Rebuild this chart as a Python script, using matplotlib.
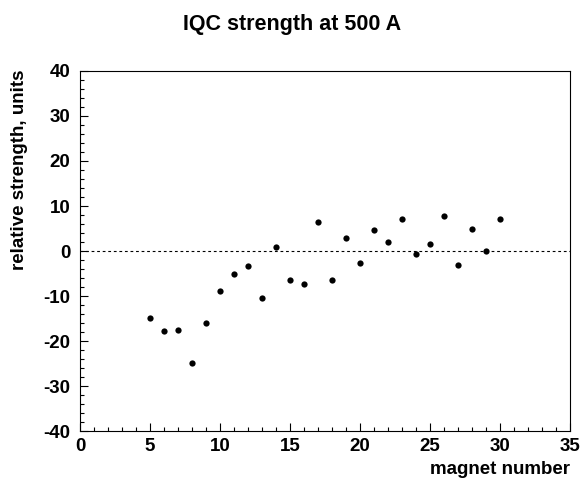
import numpy as np
import matplotlib.pyplot as plt
from matplotlib.ticker import MultipleLocator

plt.rcParams['font.family'] = ['Liberation Sans', 'DejaVu Sans']
plt.rcParams['font.weight'] = 'bold'
plt.rcParams['axes.unicode_minus'] = False

# magnet number vs. relative strength
magnet = [5, 6, 7, 8, 9, 10, 11, 12, 13, 14, 15, 16, 17, 18, 19, 20, 21, 22,
          23, 24, 25, 26, 27, 28, 29, 30]
strength = [-14.8, -17.8, -17.5, -24.9, -16.1, -8.9, -5.2, -3.3, -10.4, 0.9,
            -6.5, -7.4, 6.5, -6.5, 3.0, -2.7, 4.7, 2.1, 7.1, -0.6,
            1.5, 7.7, -3.0, 4.9, 0.0, 7.1]

fig = plt.figure(figsize=(5.84, 4.86), dpi=100)
ax = fig.add_axes([0.137, 0.113, 0.839, 0.741])

ax.axhline(0, color='black', lw=0.8, ls=(0, (2.5, 2.5)))
ax.plot(magnet, strength, 'o', color='black', ms=4.5, mec='none')

ax.set_xlim(0, 35)
ax.set_ylim(-40, 40)
ax.xaxis.set_major_locator(MultipleLocator(5))
ax.xaxis.set_minor_locator(MultipleLocator(1))
ax.yaxis.set_major_locator(MultipleLocator(10))
ax.yaxis.set_minor_locator(MultipleLocator(2))
ax.tick_params(which='both', direction='in', top=False, right=False,
               labelsize=13.5, width=0.8)
ax.tick_params(which='major', length=6)
ax.tick_params(which='minor', length=3)
ax.tick_params(axis='x', which='major', pad=5)
ax.tick_params(axis='y', which='major', pad=7)
for lab in ax.get_xticklabels() + ax.get_yticklabels():
    lab.set_fontweight('bold')
for sp in ax.spines.values():
    sp.set_linewidth(0.8)

fig.text(0.5, 0.95, 'IQC strength at 500 A', ha='center', va='center',
         fontsize=15.5, fontweight='bold')
fig.text(0.976, 0.016, 'magnet number', ha='right', va='bottom',
         fontsize=13.5, fontweight='bold')
fig.text(0.033, 0.858, 'relative strength, units', ha='center', va='top',
         rotation=90, fontsize=13.5, fontweight='bold')

fig.savefig('out.png', dpi=100)
